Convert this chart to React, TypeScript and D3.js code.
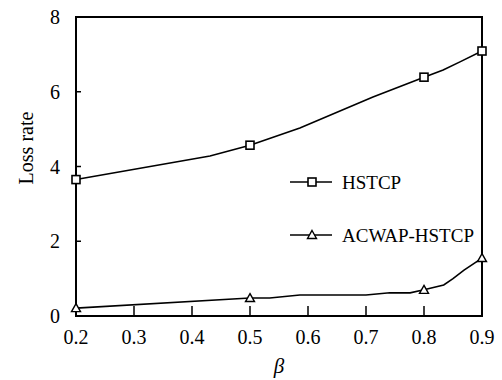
import React from "react";
import * as d3 from "d3";

const betaHSTCP = [0.2, 0.431, 0.5, 0.586, 0.712, 0.8, 0.833, 0.862, 0.9];
const lossHSTCP = [3.65, 4.28, 4.57, 5.03, 5.86, 6.39, 6.58, 6.8, 7.09];
const markerBetaHSTCP = [0.2, 0.5, 0.8, 0.9];
const markerLossHSTCP = [3.65, 4.57, 6.39, 7.09];

const betaACWAP = [0.2, 0.5, 0.534, 0.586, 0.7, 0.741, 0.776, 0.8, 0.834, 0.85, 0.869, 0.9];
const lossACWAP = [0.21, 0.48, 0.48, 0.56, 0.56, 0.62, 0.62, 0.7, 0.83, 1.0, 1.23, 1.55];
const markerBetaACWAP = [0.2, 0.5, 0.8, 0.9];
const markerLossACWAP = [0.21, 0.48, 0.7, 1.55];

const xTicks = [0.2, 0.3, 0.4, 0.5, 0.6, 0.7, 0.8, 0.9];
const yTicks = [0, 2, 4, 6, 8];
const seriesNames = ["HSTCP", "ACWAP-HSTCP"];

export default function App() {
  const W = 502, H = 380;
  const L = 76, R = 482, T = 17, B = 316;
  const x = d3.scaleLinear().domain([0.2, 0.9]).range([L, R]);
  const y = d3.scaleLinear().domain([0, 8]).range([B, T]);
  const line = d3.line<[number, number]>().x(d => x(d[0])).y(d => y(d[1]));
  const fst = { fontFamily: '"Liberation Serif", "DejaVu Serif", serif' };
  const hPts = betaHSTCP.map((b, i) => [b, lossHSTCP[i]] as [number, number]);
  const aPts = betaACWAP.map((b, i) => [b, lossACWAP[i]] as [number, number]);
  const sq = (cx: number, cy: number, k: string) => (
    <rect key={k} x={cx - 4} y={cy - 4} width={8} height={8} fill="white" stroke="black" strokeWidth={1.6} />
  );
  const tri = (cx: number, cy: number, k: string) => (
    <path key={k} d={`M${cx},${cy - 4.5}L${cx + 4.5},${cy + 3.5}L${cx - 4.5},${cy + 3.5}Z`} fill="white" stroke="black" strokeWidth={1.4} />
  );
  return (
    <svg width={W} height={H} style={{ position: "absolute", left: 0, top: 0, ...fst }}>
      <rect width={W} height={H} fill="white" />
      {xTicks.map(t => (
        <g key={"x" + t}>
          {t > 0.2 && t < 0.9 && <line x1={x(t)} x2={x(t)} y1={B} y2={B - 10} stroke="black" strokeWidth={1.5} />}
          <text x={x(t)} y={344} textAnchor="middle" style={fst} fontSize={20}>{t.toFixed(1)}</text>
        </g>
      ))}
      {yTicks.map(t => (
        <g key={"y" + t}>
          {t > 0 && t < 8 && <line x1={L} x2={L + 5} y1={y(t)} y2={y(t)} stroke="black" strokeWidth={1.5} />}
          <text x={60} y={y(t) + 7} textAnchor="end" style={fst} fontSize={20}>{t}</text>
        </g>
      ))}
      <rect x={L} y={T} width={R - L} height={B - T} fill="none" stroke="black" strokeWidth={2} />
      <path d={line(hPts) || ""} fill="none" stroke="black" strokeWidth={1.6} />
      <path d={line(aPts) || ""} fill="none" stroke="black" strokeWidth={1.6} />
      {markerBetaHSTCP.map((b, i) => sq(x(b), y(markerLossHSTCP[i]), "s" + i))}
      {markerBetaACWAP.map((b, i) => tri(x(b), y(markerLossACWAP[i]), "t" + i))}
      <line x1={290} x2={332} y1={182} y2={182} stroke="black" strokeWidth={1.6} />
      {sq(312, 182, "ls")}
      <text x={342} y={189} style={fst} fontSize={19}>{seriesNames[0]}</text>
      <line x1={290} x2={332} y1={235} y2={235} stroke="black" strokeWidth={1.6} />
      {tri(312, 235, "lt")}
      <text x={342} y={242} style={fst} fontSize={19}>{seriesNames[1]}</text>
      <text x={(L + R) / 2} y={373} textAnchor="middle" style={fst} fontSize={21} fontStyle="italic">β</text>
      <text transform={`translate(33,148) rotate(-90)`} textAnchor="middle" style={fst} fontSize={20}>Loss rate</text>
    </svg>
  );
}
